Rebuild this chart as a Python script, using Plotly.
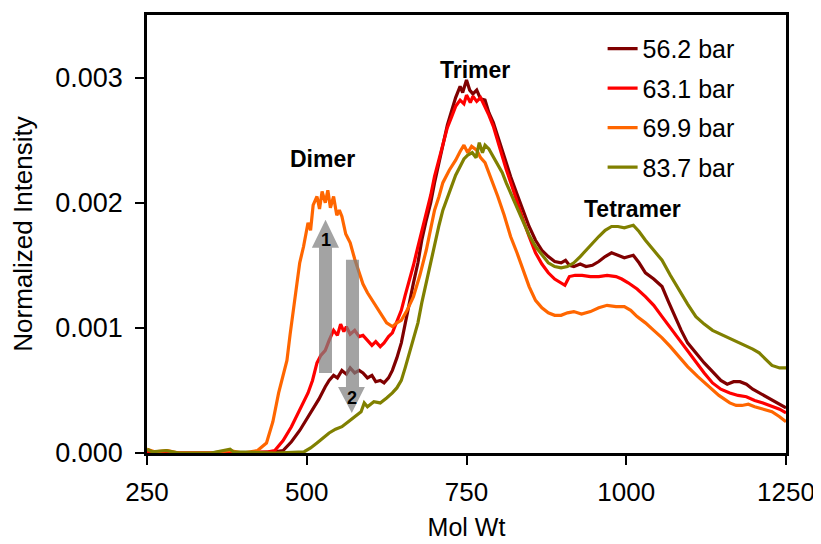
import plotly.graph_objects as go

# ---------------- data ----------------
series_names = ["56.2 bar", "63.1 bar", "69.9 bar", "83.7 bar"]
series_colors = ["#800000", "#FF0000", "#FF6600", "#808000"]

x_562 = [250, 300, 400, 450, 463, 476, 489, 499, 509, 519, 529, 535, 542, 548, 555, 562, 568, 575, 582, 588,
         595, 602, 608, 615, 621, 628, 634, 641, 648, 654, 661, 667, 674, 680, 687, 694, 700, 707, 713, 720,
         727, 733, 740, 744, 750, 755, 760, 766, 772, 779, 785, 792, 799, 806, 812, 819, 829, 839, 848, 858,
         868, 878, 888, 898, 905, 911, 918, 928, 937, 947, 957, 967, 977, 987, 997, 1004, 1011, 1020, 1030,
         1043, 1056, 1066, 1076, 1086, 1096, 1109, 1122, 1135, 1148, 1158, 1168, 1178, 1188, 1198, 1208, 1218,
         1228, 1240, 1250]
y_562 = [0.00001, 0.0, 0.0, 0.00001, 0.00002, 0.00009, 0.00018, 0.00026, 0.00034, 0.00043, 0.00053, 0.00058,
         0.00062, 0.00060, 0.00066, 0.00063, 0.00068, 0.00064, 0.00066, 0.00064, 0.00060, 0.00062, 0.00057,
         0.00058, 0.00056, 0.00060, 0.00066, 0.00076, 0.00088, 0.00104, 0.00120, 0.00136, 0.00152, 0.00170,
         0.00186, 0.00200, 0.00216, 0.00232, 0.00248, 0.00262, 0.00274, 0.00284, 0.00293, 0.00288, 0.00298,
         0.00290, 0.00287, 0.00290, 0.00283, 0.00282, 0.00272, 0.00264, 0.00253, 0.00242, 0.00231, 0.00221,
         0.00207, 0.00194, 0.00181, 0.00170, 0.00162, 0.00157, 0.00153, 0.00152, 0.00154, 0.00150, 0.00149,
         0.00151, 0.00149, 0.00150, 0.00153, 0.00157, 0.00160, 0.00158, 0.00156, 0.00157, 0.00158, 0.00152,
         0.00144, 0.00139, 0.00133, 0.00121, 0.00109, 0.00098, 0.00088, 0.00080, 0.00072, 0.00065, 0.00058,
         0.00055, 0.00057, 0.00057, 0.00055, 0.00051, 0.00048, 0.00045, 0.00042, 0.00039, 0.00036]

x_631 = [250, 300, 400, 440, 450, 463, 476, 489, 502, 509, 516, 522, 529, 535, 542, 548, 553, 558, 562, 568,
         575, 582, 588, 595, 602, 608, 615, 621, 628, 634, 641, 648, 654, 661, 667, 674, 680, 687, 694, 700,
         707, 713, 720, 727, 733, 740, 746, 750, 756, 760, 766, 772, 779, 785, 792, 799, 806, 812, 819, 829,
         839, 848, 858, 868, 878, 888, 898, 904, 911, 920, 931, 944, 957, 970, 984, 993, 1003, 1017, 1030,
         1043, 1056, 1069, 1083, 1096, 1109, 1122, 1135, 1148, 1162, 1175, 1188, 1201, 1214, 1228, 1240, 1250]
y_631 = [0.00001, 0.0, 0.0, 0.00001, 0.00002, 0.00010, 0.00021, 0.00034, 0.00048, 0.00058, 0.00072, 0.00078,
         0.00082, 0.00090, 0.00098, 0.00094, 0.00103, 0.00097, 0.00101, 0.00095, 0.00098, 0.00093, 0.00094,
         0.00090, 0.00086, 0.00089, 0.00085, 0.00088, 0.00093, 0.00096, 0.00105, 0.00114, 0.00126, 0.00138,
         0.00150, 0.00165, 0.00177, 0.00190, 0.00206, 0.00221, 0.00235, 0.00248, 0.00260, 0.00269, 0.00277,
         0.00282, 0.00279, 0.00286, 0.00280, 0.00285, 0.00281, 0.00284, 0.00277, 0.00270, 0.00261, 0.00250,
         0.00237, 0.00227, 0.00216, 0.00201, 0.00186, 0.00173, 0.00160, 0.00151, 0.00144, 0.00139, 0.00136,
         0.00134, 0.00141, 0.00142, 0.00142, 0.00141, 0.00141, 0.00142, 0.00141, 0.00139, 0.00136, 0.00131,
         0.00125, 0.00118, 0.00109, 0.00100, 0.00090, 0.00081, 0.00072, 0.00064, 0.00056, 0.00051, 0.00048,
         0.00046, 0.00045, 0.00042, 0.00040, 0.00037, 0.00035, 0.00032]

x_699 = [250, 262, 282, 300, 350, 380, 400, 423, 437, 447, 456, 463, 469, 474, 479, 484, 489, 495, 502, 506,
         510, 516, 520, 524, 529, 533, 537, 542, 547, 551, 555, 561, 568, 575, 582, 588, 595, 605, 615, 625,
         634, 641, 648, 657, 667, 677, 687, 694, 700, 707, 713, 723, 733, 740, 746, 752, 758, 766, 772, 779,
         789, 799, 809, 819, 829, 839, 848, 858, 868, 878, 888, 898, 908, 918, 930, 944, 957, 970, 984, 997,
         1007, 1017, 1030, 1043, 1056, 1069, 1083, 1096, 1112, 1129, 1145, 1162, 1172, 1181, 1191, 1201, 1214,
         1228, 1240, 1250]
y_699 = [0.00003, 0.00001, 0.00002, 0.0, 0.0, 0.00002, 0.0, 0.00002, 0.00008, 0.00025, 0.00048, 0.00062,
         0.00074, 0.00095, 0.00114, 0.00135, 0.00152, 0.00165, 0.00184, 0.00178, 0.00198, 0.00205, 0.00195,
         0.00209, 0.00200, 0.00210, 0.00196, 0.00205, 0.00190, 0.00194, 0.00189, 0.00175, 0.00168, 0.00155,
         0.00144, 0.00135, 0.00128, 0.00120, 0.00112, 0.00104, 0.00101, 0.00104, 0.00106, 0.00114, 0.00125,
         0.00142, 0.00162, 0.00178, 0.00194, 0.00205, 0.00216, 0.00226, 0.00234, 0.00241, 0.00246, 0.00240,
         0.00245, 0.00242, 0.00236, 0.00232, 0.00219, 0.00205, 0.00190, 0.00173, 0.00160, 0.00146, 0.00133,
         0.00122, 0.00116, 0.00112, 0.00110, 0.00110, 0.00112, 0.00113, 0.00111, 0.00113, 0.00116, 0.00118,
         0.00117, 0.00117, 0.00114, 0.00109, 0.00104, 0.00098, 0.00092, 0.00085, 0.00077, 0.00069, 0.00061,
         0.00053, 0.00046, 0.00040, 0.00038, 0.00038, 0.00039, 0.00037, 0.00035, 0.00033, 0.00029, 0.00025]

x_837 = [250, 258, 280, 300, 350, 380, 385, 450, 496, 506, 516, 525, 535, 545, 555, 565, 575, 585, 590, 595,
         605, 615, 625, 634, 641, 648, 654, 661, 667, 674, 680, 687, 694, 700, 707, 713, 720, 727, 733, 740,
         746, 752, 759, 765, 770, 775, 779, 785, 792, 799, 806, 812, 819, 829, 839, 848, 858, 868, 878, 888,
         898, 908, 918, 928, 937, 947, 957, 967, 977, 987, 997, 1004, 1011, 1020, 1030, 1043, 1056, 1069, 1083,
         1096, 1109, 1122, 1135, 1148, 1162, 1175, 1188, 1198, 1208, 1218, 1228, 1240, 1250]
y_837 = [0.00003, 0.00001, 0.00002, 0.0, 0.0, 0.00003, 0.00001, 0.0, 0.00001, 0.00004, 0.00008, 0.00012,
         0.00016, 0.00019, 0.00021, 0.00025, 0.00029, 0.00033, 0.00040, 0.00037, 0.00041, 0.00040, 0.00044,
         0.00048, 0.00052, 0.00058, 0.00068, 0.00080, 0.00092, 0.00104, 0.00120, 0.00136, 0.00152, 0.00168,
         0.00182, 0.00194, 0.00204, 0.00213, 0.00222, 0.00229, 0.00235, 0.00238, 0.00240, 0.00236, 0.00248,
         0.00240, 0.00246, 0.00243, 0.00237, 0.00231, 0.00224, 0.00216, 0.00208, 0.00196, 0.00184, 0.00174,
         0.00165, 0.00158, 0.00152, 0.00149, 0.00148, 0.00149, 0.00152, 0.00157, 0.00162, 0.00168, 0.00173,
         0.00178, 0.00181, 0.00181, 0.00180, 0.00181, 0.00182, 0.00177, 0.00170, 0.00162, 0.00154, 0.00142,
         0.00130, 0.00119, 0.00109, 0.00103, 0.00098, 0.00095, 0.00092, 0.00089, 0.00086, 0.00083, 0.00080,
         0.00075, 0.00070, 0.00068, 0.00068]

x_values = [x_562, x_631, x_699, x_837]
y_values = [y_562, y_631, y_699, y_837]

x_tick_vals = [250, 500, 750, 1000, 1250]
y_tick_vals = [0.0, 0.001, 0.002, 0.003]
y_tick_text = ["0.000", "0.001", "0.002", "0.003"]

peak_labels = ["Dimer", "Trimer", "Tetramer"]
peak_label_x = [524, 763, 1010]
peak_label_y = [0.00235, 0.00306, 0.00195]

# ---------------- figure ----------------
FONT = "Liberation Sans, Arial, sans-serif"
fig = go.Figure()
for i in range(4):
    fig.add_trace(go.Scatter(
        x=x_values[i], y=y_values[i], mode="lines", name=series_names[i],
        legendgroup=series_names[i],
        line=dict(color=series_colors[i], width=3.2),
    ))

for t, xx, yy in zip(peak_labels, peak_label_x, peak_label_y):
    fig.add_annotation(x=xx, y=yy, text="<b>%s</b>" % t, showarrow=False,
                       font=dict(family=FONT, size=23, color="black"))

# grey block arrows (1 up, 2 down)
arrow_fill = "rgba(128,128,128,0.72)"
fig.add_shape(type="path", xref="x", yref="y",
              path="M 519.2 0.00064 L 539.5 0.00064 L 539.5 0.00164 L 550.5 0.00164 L 529.4 0.001864 "
                   "L 508 0.00164 L 519.2 0.00164 Z",
              fillcolor=arrow_fill, line=dict(width=0), layer="above")
fig.add_shape(type="path", xref="x", yref="y",
              path="M 561.4 0.001544 L 581.8 0.001544 L 581.8 0.000528 L 591 0.000528 L 570.5 0.00032 "
                   "L 549 0.000528 L 561.4 0.000528 Z",
              fillcolor=arrow_fill, line=dict(width=0), layer="above")
fig.add_annotation(x=529.4, y=0.00170, text="<b>1</b>", showarrow=False,
                   font=dict(family=FONT, size=18, color="black"))
fig.add_annotation(x=570.5, y=0.00044, text="<b>2</b>", showarrow=False,
                   font=dict(family=FONT, size=18, color="black"))

fig.update_layout(
    width=821, height=544,
    margin=dict(l=139, r=43, t=7, b=99, autoexpand=False),
    paper_bgcolor="white", plot_bgcolor="white",
    font=dict(family=FONT, size=26, color="black"),
    showlegend=True,
    legend=dict(x=0.713, y=0.975, xanchor="left", yanchor="top",
                bgcolor="rgba(0,0,0,0)", font=dict(size=25),
                tracegroupgap=4, itemwidth=30),
    xaxis=dict(range=[250, 1250], tickvals=x_tick_vals,
               showline=True, linecolor="black", linewidth=2.5, mirror=True,
               ticks="outside", ticklen=9, tickwidth=2, tickcolor="black",
               showgrid=False, zeroline=False, ticklabelstandoff=5,
               title=dict(text="Mol Wt", font=dict(size=25), standoff=13),
               tickfont=dict(size=26)),
    yaxis=dict(range=[0, 0.0035], tickvals=y_tick_vals, ticktext=y_tick_text,
               showline=True, linecolor="black", linewidth=2.5, mirror=True,
               ticks="outside", ticklen=9, tickwidth=2, tickcolor="black",
               showgrid=False, zeroline=False, ticklabelstandoff=7,
               title=dict(text="Normalized Intensity", font=dict(size=26), standoff=24),
               tickfont=dict(size=27)),
)

fig.write_html("out.html")
